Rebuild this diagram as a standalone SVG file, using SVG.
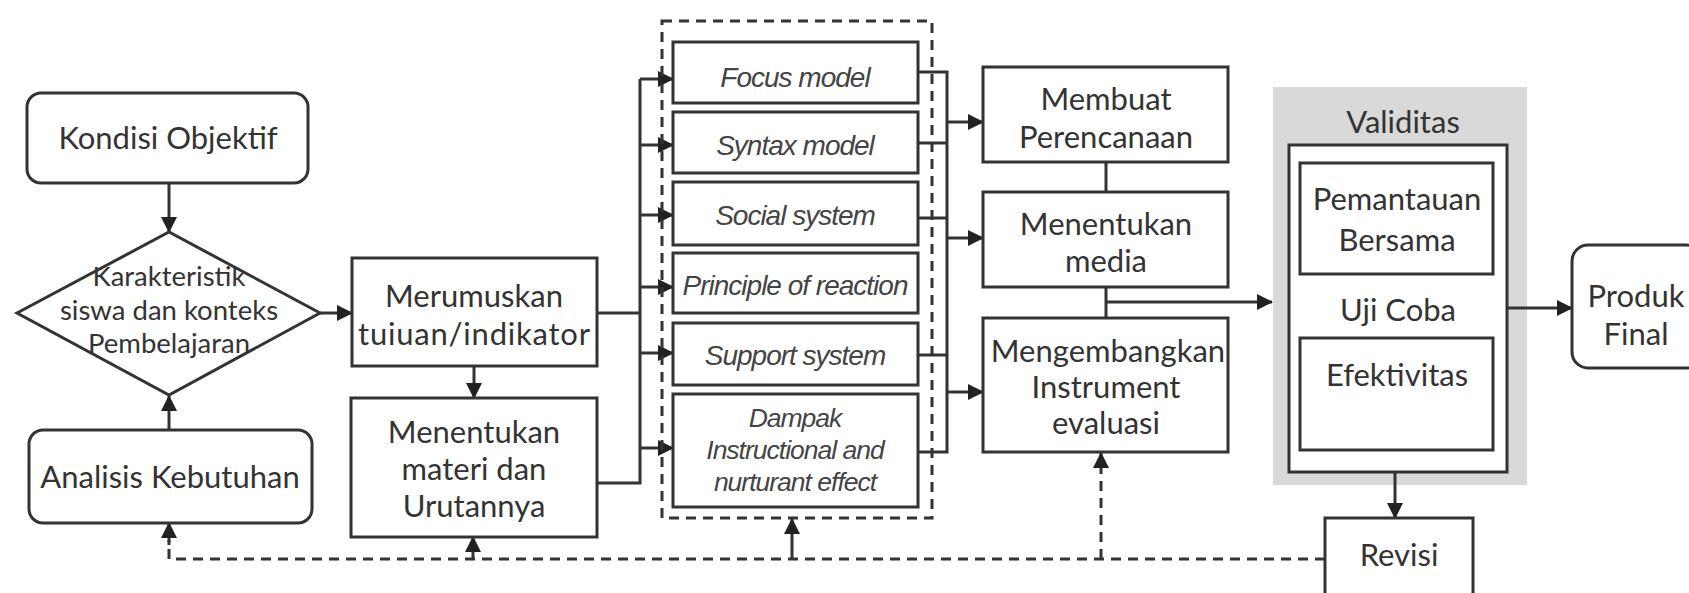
<svg xmlns="http://www.w3.org/2000/svg" width="1689" height="593" viewBox="0 0 1689 593">
<defs>
<marker id="ah" markerUnits="userSpaceOnUse" markerWidth="16" markerHeight="16" refX="15" refY="8" orient="auto">
<path d="M0,0 L16,8 L0,16 z" fill="#222"/>
</marker>
<style>
.box{fill:#fff;stroke:#333;stroke-width:3}
.t{font-family:Lato,"Open Sans",sans-serif;font-size:31px;fill:#333;text-anchor:middle}
.d{font-size:27.5px}
.m{font-family:"Liberation Sans",Arial,sans-serif;font-style:italic;font-size:28px;fill:#444;text-anchor:middle;letter-spacing:-1px}
.m2{font-size:26.5px}
.ln{fill:none;stroke:#333;stroke-width:3}
.ar{fill:none;stroke:#333;stroke-width:3;marker-end:url(#ah)}
.ds{fill:none;stroke:#333;stroke-width:3;stroke-dasharray:10 7}
.dsa{fill:none;stroke:#333;stroke-width:3;stroke-dasharray:10 7;marker-end:url(#ah)}
</style>
</defs>
<rect width="1689" height="593" fill="#fff"/>

<g id="validitas-bg">
<rect x="1273" y="87" width="254" height="398" fill="#d9d9d9"/>
<text class="t" x="1403" y="133">Validitas</text>
</g>

<g id="connectors">
<line class="ar" x1="169" y1="183" x2="169" y2="232"/>
<line class="ar" x1="169" y1="430" x2="169" y2="396"/>
<line class="ar" x1="320" y1="313" x2="352" y2="313"/>
<line class="ar" x1="474" y1="366" x2="474" y2="398"/>
<polyline class="ln" points="597,313 640,313"/>
<polyline class="ln" points="597,483 640,483 640,79"/>
<line class="ar" x1="640" y1="79" x2="673" y2="79"/>
<line class="ar" x1="640" y1="145" x2="673" y2="145"/>
<line class="ar" x1="640" y1="215" x2="673" y2="215"/>
<line class="ar" x1="640" y1="287" x2="673" y2="287"/>
<line class="ar" x1="640" y1="353" x2="673" y2="353"/>
<line class="ar" x1="640" y1="448" x2="673" y2="448"/>
<polyline class="ln" points="918,72 947,72 947,452 918,452"/>
<line class="ln" x1="918" y1="143" x2="947" y2="143"/>
<line class="ln" x1="918" y1="218" x2="947" y2="218"/>
<line class="ln" x1="918" y1="355" x2="947" y2="355"/>
<line class="ar" x1="947" y1="122" x2="983" y2="122"/>
<line class="ar" x1="947" y1="238" x2="983" y2="238"/>
<line class="ar" x1="947" y1="392" x2="983" y2="392"/>
<line class="ln" x1="1106" y1="162" x2="1106" y2="192"/>
<line class="ln" x1="1106" y1="287" x2="1106" y2="318"/>
<line class="ar" x1="1106" y1="302" x2="1272" y2="302"/>
<line class="ar" x1="1507" y1="308" x2="1572" y2="308"/>
<line class="ar" x1="1395" y1="472" x2="1395" y2="518"/>
<polyline class="ds" points="1325,559 169,559 169,540"/>
<line class="ar" x1="169" y1="545" x2="169" y2="523"/>
<line class="ar" x1="473" y1="559" x2="473" y2="537"/>
<line class="ar" x1="792" y1="559" x2="792" y2="519"/>
<line class="dsa" x1="1101" y1="559" x2="1101" y2="453"/>
<rect x="662" y="21" width="270" height="497" class="ds"/>
</g>

<g id="kondisi">
<rect class="box" x="27" y="93" width="281" height="90" rx="14"/>
<text class="t" x="168" y="149">Kondisi Objektif</text>
</g>

<g id="karakteristik">
<polygon class="box" points="17,313 169,232 320,313 169,395"/>
<text class="t d" x="169" y="286">Karakteristik</text>
<text class="t d" x="169" y="319.5">siswa dan konteks</text>
<text class="t d" x="169" y="353">Pembelajaran</text>
</g>

<g id="analisis">
<rect class="box" x="29" y="430" width="283" height="93" rx="14"/>
<text class="t" x="170" y="488">Analisis Kebutuhan</text>
</g>

<g id="merumuskan">
<rect class="box" x="352" y="258" width="245" height="108"/>
<text class="t" x="474" y="307">Merumuskan</text>
<text class="t" x="474" y="345" textLength="232" lengthAdjust="spacing">tuiuan/indikator</text>
</g>

<g id="materi">
<rect class="box" x="351" y="398" width="246" height="139"/>
<text class="t" x="474" y="443">Menentukan</text>
<text class="t" x="474" y="480">materi dan</text>
<text class="t" x="474" y="517">Urutannya</text>
</g>

<g id="focus">
<rect class="box" x="673" y="42" width="245" height="61"/>
<text class="m" x="795" y="87">Focus model</text>
</g>
<g id="syntax">
<rect class="box" x="673" y="112" width="245" height="61"/>
<text class="m" x="795" y="155">Syntax model</text>
</g>
<g id="social">
<rect class="box" x="673" y="182" width="245" height="63"/>
<text class="m" x="795" y="225">Social system</text>
</g>
<g id="principle">
<rect class="box" x="673" y="253" width="245" height="60"/>
<text class="m" x="795" y="295">Principle of reaction</text>
</g>
<g id="support">
<rect class="box" x="673" y="323" width="245" height="62"/>
<text class="m" x="795" y="365">Support system</text>
</g>
<g id="dampak">
<rect class="box" x="673" y="394" width="245" height="113"/>
<text class="m m2" x="795" y="427">Dampak</text>
<text class="m m2" x="795" y="459">Instructional and</text>
<text class="m m2" x="795" y="491">nurturant effect</text>
</g>

<g id="perencanaan">
<rect class="box" x="983" y="67" width="245" height="95"/>
<text class="t" x="1106" y="110">Membuat</text>
<text class="t" x="1106" y="148">Perencanaan</text>
</g>
<g id="media">
<rect class="box" x="983" y="192" width="245" height="95"/>
<text class="t" x="1106" y="235">Menentukan</text>
<text class="t" x="1106" y="272">media</text>
</g>
<g id="instrument">
<rect class="box" x="983" y="318" width="245" height="134"/>
<text class="t" x="1108" y="362">Mengembangkan</text>
<text class="t" x="1106" y="398">Instrument</text>
<text class="t" x="1106" y="434">evaluasi</text>
</g>

<g id="ujicoba">
<rect class="box" x="1289" y="145" width="218" height="327"/>
<text class="t" x="1398" y="321">Uji Coba</text>
</g>
<g id="pemantauan">
<rect class="box" x="1300" y="163" width="193" height="111"/>
<text class="t" x="1397" y="210">Pemantauan</text>
<text class="t" x="1397" y="251">Bersama</text>
</g>
<g id="efektivitas">
<rect class="box" x="1300" y="338" width="193" height="112"/>
<text class="t" x="1397" y="386">Efektivitas</text>
</g>

<g id="produk">
<rect class="box" x="1572" y="245" width="130" height="123" rx="16"/>
<text class="t" x="1636" y="307">Produk</text>
<text class="t" x="1636" y="345">Final</text>
</g>

<g id="revisi">
<rect class="box" x="1325" y="518" width="148" height="90"/>
<text class="t" x="1399" y="566">Revisi</text>
</g>
</svg>
